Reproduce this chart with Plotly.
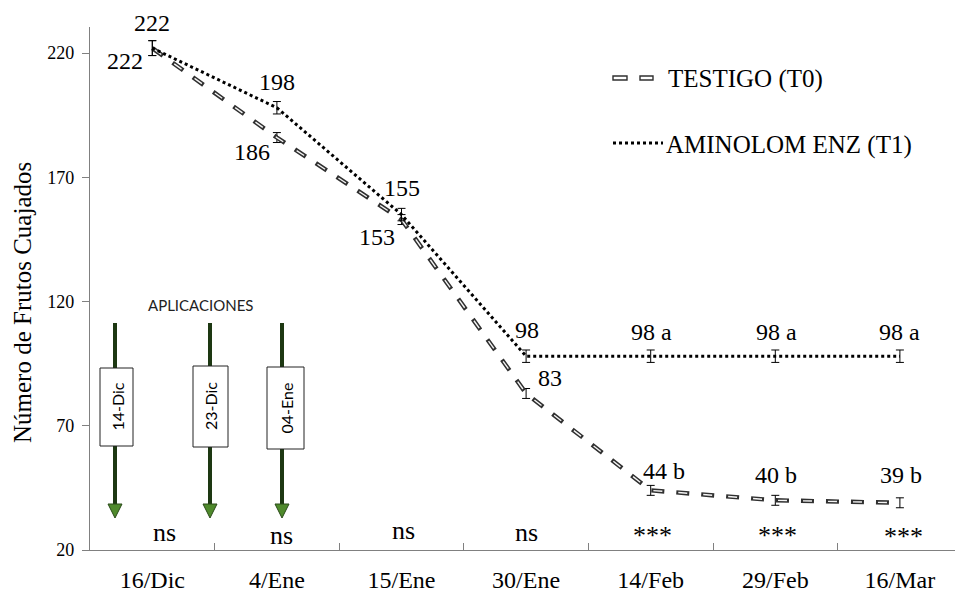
import plotly.graph_objects as go

# ---------------- data ----------------
fechas = ["16/Dic", "4/Ene", "15/Ene", "30/Ene", "14/Feb", "29/Feb", "16/Mar"]
testigo = [222, 186, 153, 83, 44, 40, 39]
aminolom = [222, 198, 155, 98, 98, 98, 98]
testigo_err = [3, 2, 2, 2, 2, 2, 2]
aminolom_err = [3, 2.5, 2.5, 2.5, 2.5, 2.5, 2.5]
testigo_letras = ["", "", "", "", "b", "b", "b"]
aminolom_letras = ["", "", "", "", "a", "a", "a"]
significancia = ["ns", "ns", "ns", "ns", "***", "***", "***"]
aplicaciones = ["14-Dic", "23-Dic", "04-Ene"]
y_ticks = [20, 70, 120, 170, 220]

# ---------------- layout constants ----------------
W, H = 955, 592
ML, MR, MT, MB = 90, 0, 27, 42
PW, PH = W - ML - MR, H - MT - MB
CAT_W = 124.6
Y0, Y1 = 20, 230.5
SERIF = "Liberation Serif, Times New Roman, serif"
SANS = "Lato, Liberation Sans, Arial, sans-serif"


def px(xp):
    return (xp - ML) / PW


def py(yp):
    return (H - MB - yp) / PH


fig = go.Figure()

# TESTIGO (T0): hollow dashes = outer dark dash + inner white dash
fig.add_trace(go.Scatter(
    x=fechas, y=testigo, mode="lines", showlegend=False,
    line=dict(color="#303030", width=4.4, dash="13px,12px"),
    error_y=dict(type="data", array=testigo_err, color="black", thickness=1, width=4),
))
fig.add_trace(go.Scatter(
    x=fechas, y=testigo, mode="lines", showlegend=False,
    line=dict(color="#f4f4f4", width=1.4, dash="0px,2px,9px,14px"),
    hoverinfo="skip",
))
# AMINOLOM ENZ (T1): dotted
fig.add_trace(go.Scatter(
    x=fechas, y=aminolom, mode="lines", showlegend=False,
    line=dict(color="black", width=3, dash="3px,3px"),
    error_y=dict(type="data", array=aminolom_err, color="black", thickness=1, width=4),
))

annotations = []

# data labels (offsets in px)
t1_off = [(0, 25), (0, 26), (0, 27), (1, 26), (1, 24), (1, 24), (0, 24)]
t0_off = [(-27, -13), (-25, -14), (-25, -17), (24, 15), (13, 19), (1, 25), (1, 28)]
for i, f in enumerate(fechas):
    t1 = f"{aminolom[i]}" + (f" {aminolom_letras[i]}" if aminolom_letras[i] else "")
    t0 = f"{testigo[i]}" + (f" {testigo_letras[i]}" if testigo_letras[i] else "")
    annotations.append(dict(x=f, y=aminolom[i], text=t1, showarrow=False,
                            xanchor="center", yanchor="middle",
                            xshift=t1_off[i][0], yshift=t1_off[i][1],
                            font=dict(family=SERIF, size=24, color="black")))
    annotations.append(dict(x=f, y=testigo[i], text=t0, showarrow=False,
                            xanchor="center", yanchor="middle",
                            xshift=t0_off[i][0], yshift=t0_off[i][1],
                            font=dict(family=SERIF, size=24, color="black")))

# significance
sig_off = [(12, 0), (5, -3), (2, 2), (0, 0), (2, -3), (2, -3), (4, -4)]
for i, f in enumerate(fechas):
    annotations.append(dict(x=f, y=27, text=significancia[i], showarrow=False,
                            xanchor="center", yanchor="middle",
                            xshift=sig_off[i][0], yshift=sig_off[i][1],
                            font=dict(family=SERIF, size=26, color="black")))


def paper_text(xp, yp, text, font, angle=0, xanchor="center"):
    return dict(x=px(xp), y=py(yp), xref="paper", yref="paper", text=text,
                textangle=angle, showarrow=False, xanchor=xanchor, yanchor="middle",
                font=font)


# y-axis title
annotations.append(paper_text(22, 303, "Número de Frutos Cuajados",
                              dict(family=SERIF, size=25, color="black"), angle=-90))

# legend (custom)
shapes = []
for x0, x1 in [(613, 627), (640, 653)]:
    shapes.append(dict(type="rect", xref="paper", yref="paper",
                       x0=px(x0), x1=px(x1), y0=py(80), y1=py(76),
                       line=dict(color="#303030", width=1.4), fillcolor="white"))
shapes.append(dict(type="line", xref="paper", yref="paper",
                   x0=px(613), x1=px(663), y0=py(143), y1=py(143),
                   line=dict(color="black", width=3, dash="3px,3px")))
annotations.append(paper_text(666, 79, "TESTIGO (T0)",
                              dict(family=SERIF, size=25, color="black"), xanchor="left"))
annotations.append(paper_text(664, 145, "AMINOLOM ENZ (T1)",
                              dict(family=SERIF, size=25, color="black"), xanchor="left"))

# application arrows
arrow_x = [115, 210, 282]
box_x = [(100, 133), (193, 228), (267, 304)]
box_y = [(368, 446), (366, 447), (367, 449)]
for k, lab in enumerate(aplicaciones):
    xa = arrow_x[k]
    shapes.append(dict(type="line", xref="paper", yref="paper",
                       x0=px(xa), x1=px(xa), y0=py(323), y1=py(506),
                       line=dict(color="#1d3812", width=4)))
    path = (f"M {px(xa - 7)} {py(504)} L {px(xa + 7)} {py(504)} "
            f"L {px(xa)} {py(518)} Z")
    shapes.append(dict(type="path", xref="paper", yref="paper", path=path,
                       fillcolor="#4f8a2c", line=dict(color="#2a4a18", width=1)))
    shapes.append(dict(type="rect", xref="paper", yref="paper",
                       x0=px(box_x[k][0]), x1=px(box_x[k][1]),
                       y0=py(box_y[k][1]), y1=py(box_y[k][0]),
                       fillcolor="white", line=dict(color="#222", width=1)))
    annotations.append(paper_text((box_x[k][0] + box_x[k][1]) / 2,
                                  (box_y[k][0] + box_y[k][1]) / 2, lab,
                                  dict(family=SANS, size=16, color="black"), angle=-90))
annotations.append(paper_text(200, 305, "APLICACIONES",
                              dict(family=SANS, size=15, color="#222")))

fig.update_layout(
    width=W, height=H,
    margin=dict(l=ML, r=MR, t=MT, b=MB),
    paper_bgcolor="white", plot_bgcolor="white",
    showlegend=False,
    annotations=annotations,
    shapes=shapes,
    xaxis=dict(
        type="category", categoryorder="array", categoryarray=fechas,
        range=[-0.5, -0.5 + PW / CAT_W],
        showgrid=False, zeroline=False,
        showline=True, linecolor="#808080", linewidth=1.2,
        ticks="inside", tickson="boundaries", ticklen=7, tickcolor="#808080",
        tickfont=dict(family=SERIF, size=24, color="black"),
        ticklabelstandoff=8,
    ),
    yaxis=dict(
        range=[Y0, Y1], tickvals=y_ticks,
        showgrid=False, zeroline=False,
        showline=True, linecolor="#808080", linewidth=1.2,
        ticks="outside", ticklen=7, tickcolor="#808080",
        tickfont=dict(family=SERIF, size=18, color="black"),
        ticklabelstandoff=4,
    ),
)

fig.write_html("out.html", config={"displayModeBar": False},
               post_script="document.body.style.margin='0';")
